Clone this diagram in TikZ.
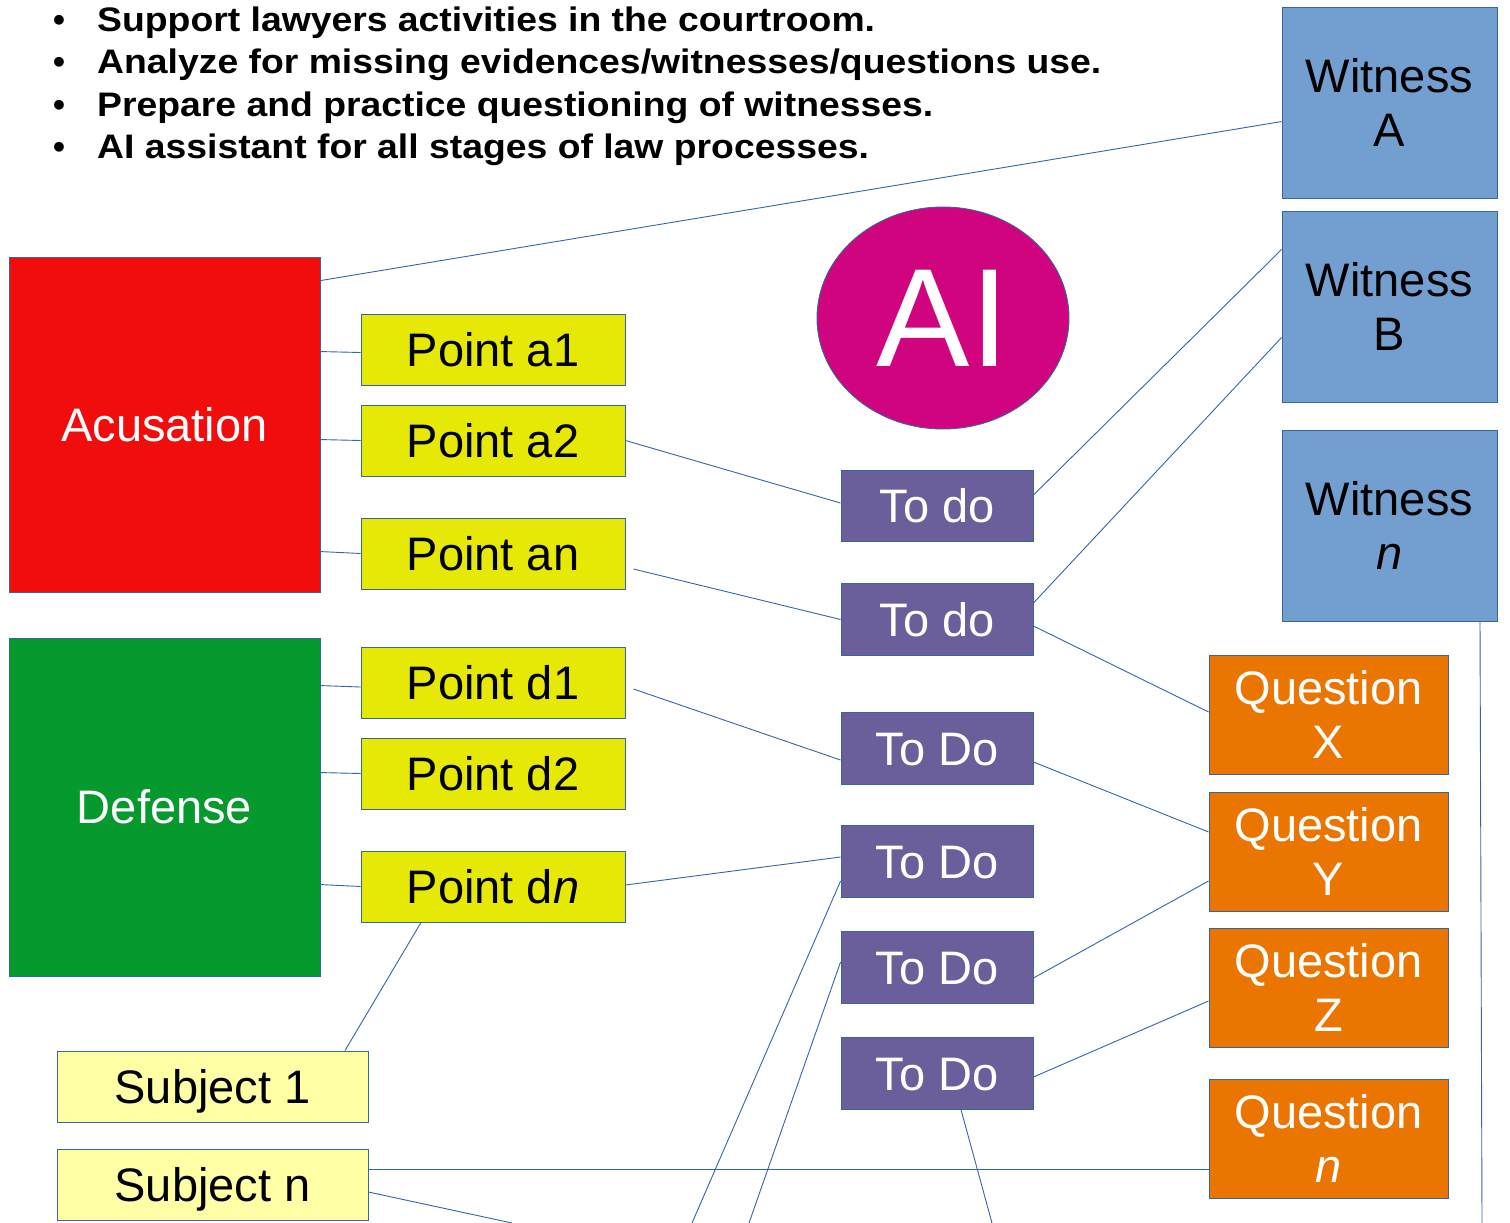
\documentclass[tikz,border=0pt]{standalone}
\usepackage{fontspec}
\setmainfont{Liberation Sans}
\usetikzlibrary{shapes.geometric}
\definecolor{witblue}{HTML}{729FCF}
\definecolor{edgeblue}{HTML}{3465A4}
\definecolor{accred}{HTML}{F10D0C}
\definecolor{defgreen}{HTML}{069A2E}
\definecolor{ptyellow}{HTML}{E6E905}
\definecolor{subyellow}{HTML}{FFFFA6}
\definecolor{todopurple}{HTML}{6B5E9B}
\definecolor{qorange}{HTML}{EA7500}
\definecolor{aimagenta}{HTML}{D1047F}
\tikzset{
  box/.style={draw=edgeblue, line width=0.9pt, rectangle, inner sep=0pt, align=center,
    font=\fontsize{47}{54}\selectfont},
  onel/.style={text height=33.7pt, text depth=0pt},
  witbox/.style={box, fill=witblue, text=black, minimum width=215pt, minimum height=191pt},
  accbox/.style={box, fill=accred, text=white, minimum width=311pt, minimum height=335pt, onel},
  defbox/.style={box, fill=defgreen, text=white, minimum width=311pt, minimum height=338pt, onel},
  ptbox/.style={box, fill=ptyellow, text=black, minimum width=264pt, minimum height=71pt, onel},
  subbox/.style={box, fill=subyellow, text=black, minimum width=311pt, minimum height=71pt, onel},
  todobox/.style={box, fill=todopurple, text=white, minimum width=192pt, minimum height=71.5pt, onel},
  qbox/.style={box, fill=qorange, text=white, minimum width=239pt, minimum height=119pt},
  link/.style={draw=edgeblue, line width=0.9pt},
  bul/.style={anchor=base, inner sep=0pt, font=\fontsize{34}{40}\selectfont\bfseries},
  bultext/.style={anchor=base west, inner sep=0pt, font=\fontsize{34}{40}\selectfont\bfseries},
}
\begin{document}
\begin{tikzpicture}[x=1pt,y=-1pt]
\useasboundingbox (0,0) rectangle (1510,1223);
% bullets
\foreach \i/\t in {0/{Support lawyers activities in the courtroom.},
                   1/{Analyze for missing evidences/witnesses/questions use.},
                   2/{Prepare and practice questioning of witnesses.},
                   3/{AI assistant for all stages of law processes.}}{
  \node[bul] (b\i) at (59,{32+42*\i}) {•};
  \node[bultext] (t\i) at (97,{32+42*\i}) {\scalebox{1.098}[1]{\t}};
}
% witnesses
\node[witbox] (wa) at (1389.5,102.5) {Witness\\A};
\node[witbox] (wb) at (1389.5,306.5) {Witness\\B};
\node[witbox] (wn) at (1389.5,525.5) {Witness\\\textit{n}};
% AI
\node[ellipse, draw=edgeblue, line width=0.9pt, fill=aimagenta, text=white, inner sep=0pt,
  minimum width=252pt, minimum height=222pt, font=\fontsize{140}{140}\selectfont] (ai) at (943,318) {AI};
% big boxes
\node[accbox] (acc) at (164.5,424.5) {Acusation};
\node[defbox] (def) at (164.5,807) {Defense};
% points
\node[ptbox] (a1) at (493,349.5) {Point a1};
\node[ptbox] (a2) at (493,440.5) {Point a2};
\node[ptbox] (an) at (493,553.5) {Point an};
\node[ptbox] (d1) at (493,682.5) {Point d1};
\node[ptbox] (d2) at (493,773.5) {Point d2};
\node[ptbox] (dn) at (493,886.5) {Point d\textit{n}};
% subjects
\node[subbox] (s1) at (212.5,1086.5) {Subject 1};
\node[subbox] (sn) at (212.5,1184.5) {Subject n};
% to do
\node[todobox] (td1) at (937,506) {To do};
\node[todobox] (td2) at (937,619.5) {To do};
\node[todobox] (td3) at (937,748.5) {To Do};
\node[todobox] (td4) at (937,861.5) {To Do};
\node[todobox] (td5) at (937,967.5) {To Do};
\node[todobox] (td6) at (937,1073.5) {To Do};
% questions
\node[qbox] (qx) at (1328.5,714.5) {Question\\X};
\node[qbox] (qy) at (1328.5,851.5) {Question\\Y};
\node[qbox] (qz) at (1328.5,987.5) {Question\\Z};
\node[qbox] (qn) at (1328.5,1138.5) {Question\\\textit{n}};
% free ends
\coordinate (e1) at (692,1223);
\coordinate (e2) at (749,1223);
\coordinate (e3) at (992,1223);
\coordinate (e4) at (512,1223);
\coordinate (e5) at (1482,1223);
% connectors
\draw[link] ([yshift=-24pt]acc.north east) -- ([yshift=-115pt]wa.north west);
\draw[link] ([yshift=-95pt]acc.north east) -- ([yshift=-3pt]a1.west);
\draw[link] ([yshift=-183pt]acc.north east) -- (a2.west);
\draw[link] ([yshift=-295pt]acc.north east) -- (an.west);
\draw[link] (a2.east) -- ([yshift=3pt]td1.west);
\draw[link] ([xshift=8pt,yshift=-15.5pt]an.east) -- (td2.west);
\draw[link] ([yshift=11pt]td1.east) -- ([yshift=-39pt]wb.north west);
\draw[link] ([yshift=16.5pt]td2.east) -- ([yshift=-127pt]wb.north west);
\draw[link] ([yshift=-6.5pt]td2.east) -- ([yshift=2.5pt]qx.west);
\draw[link] ([yshift=-48pt]def.north east) -- ([yshift=-4.5pt]d1.west);
\draw[link] ([yshift=-135pt]def.north east) -- (d2.west);
\draw[link] ([yshift=-247pt]def.north east) -- (dn.west);
\draw[link] ([xshift=8pt,yshift=-6.5pt]d1.east) -- ([yshift=-11.5pt]td3.west);
\draw[link] ([yshift=-13.5pt]td3.east) -- ([yshift=19.5pt]qy.west);
\draw[link] ([yshift=1.5pt]dn.east) -- ([yshift=4.5pt]td4.west);
\draw[link] ([yshift=-19.5pt]td4.west) -- (e1);
\draw[link] ([yshift=5.5pt]td5.west) -- (e2);
\draw[link] ([yshift=-10.5pt]td5.east) -- ([yshift=-29.5pt]qy.west);
\draw[link] ([yshift=-3.5pt]td6.east) -- ([yshift=-13.5pt]qz.west);
\draw[link] ([xshift=24pt]td6.south) -- (e3);
\draw[link] ([xshift=-72pt]dn.south) -- ([xshift=132.5pt]s1.north);
\draw[link] ([yshift=15.5pt]sn.east) -- ([yshift=-30.5pt]qn.west);
\draw[link] ([yshift=-7.5pt]sn.east) -- (e4);
\draw[link] ([xshift=90.5pt]wn.south) -- (e5);
\end{tikzpicture}
\end{document}
